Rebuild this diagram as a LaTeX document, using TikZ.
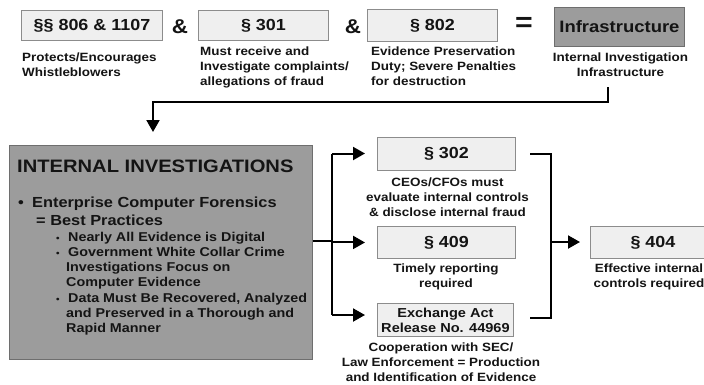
\documentclass[tikz,border=0pt]{standalone}
\usepackage{fontspec}
\setmainfont{Liberation Sans}[FakeStretch=1.12]
\usetikzlibrary{arrows.meta}
\definecolor{lbox}{HTML}{EFEFEF}
\definecolor{lborder}{HTML}{8C8C8C}
\definecolor{dbox}{HTML}{9C9C9C}
\definecolor{dborder}{HTML}{6E6E6E}
\definecolor{ink}{HTML}{141414}
\newcommand{\fsz}[2]{\fontsize{#1}{#2}\selectfont\bfseries}
\begin{document}
\begin{tikzpicture}[x=1pt,y=-1pt,
  lightbox/.style={draw=lborder, fill=lbox, line width=0.9pt, inner sep=0pt, text=ink, anchor=north west, align=center},
  darkbox/.style={draw=dborder, fill=dbox, line width=0.9pt, inner sep=0pt, text=ink, anchor=north west, align=center},
  boxlabel/.style={font=\fsz{16}{19}},
  desc/.style={text=ink, inner sep=0pt, font=\fsz{12}{15}},
  sym/.style={text=ink, inner sep=0pt, anchor=base},
  ttl/.style={text=ink, inner sep=0pt, anchor=base west, font=\fsz{18}{21}},
  itm/.style={text=ink, inner sep=0pt, anchor=base west, font=\fsz{14.6}{18}},
  sbl/.style={text=ink, inner sep=0pt, anchor=base west, font=\fsz{12.8}{15}},
  sbul/.style={text=ink, inner sep=0pt, anchor=base west, font=\fsz{9}{15}},
  conn/.style={line width=2pt, draw=black},
  arr/.style={conn, -{Triangle[length=12pt,width=13pt]}}
]
\useasboundingbox (0,0) rectangle (704,384);
\clip (0,0) rectangle (704,384);
\fill[white] (0,0) rectangle (704,384);

% top row
\node[lightbox, boxlabel, minimum width=141pt, minimum height=30pt] (b806) at (21,10) {§§ 806 \& 1107};
\node[sym, font=\fsz{20}{23}] (amp1) at (180,33.5) {\&};
\node[lightbox, boxlabel, minimum width=130pt, minimum height=30pt] (b301) at (198,10) {§ 301};
\node[sym, font=\fsz{20}{23}] (amp2) at (353,33.5) {\&};
\node[lightbox, boxlabel, minimum width=130pt, minimum height=32pt] (b802) at (367,9) {§ 802};
\node[sym, font=\fsz{27}{30}] (eq) at (524,31) {=};
\node[darkbox, font=\fsz{16.5}{19}, minimum width=130pt, minimum height=39pt] (infra) at (554,7) {Infrastructure};

\node[desc, anchor=north west, align=left] (d806) at (22,52.2) {Protects/Encourages\\Whistleblowers};
\node[desc, anchor=north west, align=left] (d301) at (200,46.2) {Must receive and\\Investigate complaints/\\allegations of fraud};
\node[desc, anchor=north west, align=left] (d802) at (371,46.4) {Evidence Preservation\\Duty; Severe Penalties\\for destruction};
\node[desc, anchor=north, align=center] (dinf) at (620.5,52.7) {Internal Investigation\\Infrastructure};

% big box
\node[darkbox, minimum width=303pt, minimum height=214pt] (ii) at (9,145) {};
\node[ttl] (title) at (17,172) {INTERNAL INVESTIGATIONS};
\node[itm] (bul1) at (18,207) {•};
\node[itm] (it1) at (32,207) {Enterprise Computer Forensics};
\node[itm] (it1b) at (36,225) {= Best Practices};
\node[sbul] (bul2) at (56,241.7) {•};
\node[sbl] (it2) at (68,241.7) {Nearly All Evidence is Digital};
\node[sbul] (bul3) at (56,256.7) {•};
\node[sbl] (it3) at (68,256.7) {Government White Collar Crime};
\node[sbl] (it3b) at (66,271.7) {Investigations Focus on};
\node[sbl] (it3c) at (66,286.7) {Computer Evidence};
\node[sbul] (bul4) at (56,302.7) {•};
\node[sbl] (it4) at (68,302.7) {Data Must Be Recovered, Analyzed};
\node[sbl] (it4b) at (66,317.7) {and Preserved in a Thorough and};
\node[sbl] (it4c) at (66,332.7) {Rapid Manner};

% right boxes
\node[lightbox, boxlabel, minimum width=138pt, minimum height=33pt] (s302) at (377,137) {§ 302};
\node[lightbox, boxlabel, minimum width=138pt, minimum height=32pt] (s409) at (377,226) {§ 409};
\node[lightbox, font=\fsz{13}{15}, minimum width=136pt, minimum height=33pt] (ex) at (377,303) {Exchange Act\\Release No. 44969};
\node[lightbox, boxlabel, minimum width=125pt, minimum height=32pt] (s404) at (590,226) {§ 404};

\node[desc, anchor=north, align=center] (d302) at (447.5,177.2) {CEOs/CFOs must\\evaluate internal controls\\\& disclose internal fraud};
\node[desc, anchor=north, align=center] (d409) at (446,263.2) {Timely reporting\\required};
\node[desc, anchor=north, align=center] (dex) at (441,343) {Cooperation with SEC/\\Law Enforcement = Production\\and Identification of Evidence};
\node[desc, anchor=north, align=center] (d404) at (649,263.2) {Effective internal\\controls required};

% connectors
\coordinate (infA) at (608,87);
\coordinate (turn) at (153,102);
\draw[arr, shorten >=13pt] (infA) |- (turn) -- (turn |- ii.north);

\coordinate (tr) at (332,241);
\coordinate (trT) at (332,153.5);
\coordinate (trB) at (332,315);
\draw[conn] (ii.east |- tr) -- (tr);
\draw[conn] (trT) -- (trB);
\draw[arr, shorten >=12pt] (trT) -- (trT -| s302.west);
\draw[arr, shorten >=12pt] (trT |- s409.west) -- (s409.west);
\draw[arr, shorten >=12pt] (trB) -- (trB -| ex.west);

\coordinate (bkT) at (530,154);
\coordinate (bkB) at (530,318);
\coordinate (bkM) at (551,242);
\draw[conn] (bkT) -- (bkT -| bkM) -- (bkB -| bkM) -- (bkB);
\draw[arr, shorten >=10pt] (bkM) -- (bkM -| s404.west);
\end{tikzpicture}
\end{document}
